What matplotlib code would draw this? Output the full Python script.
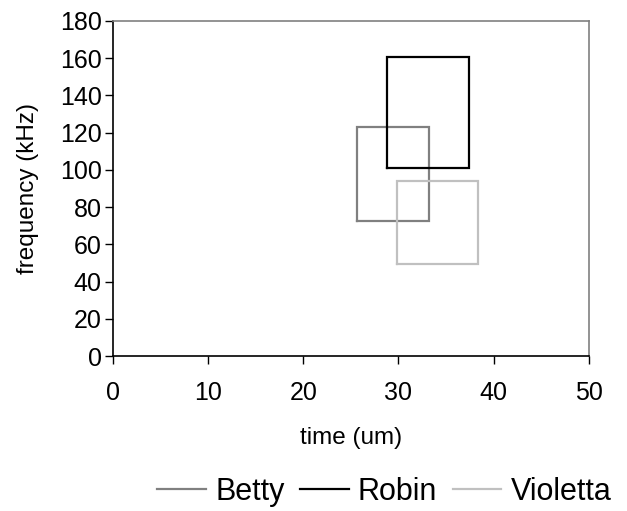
import matplotlib.pyplot as plt

plt.rcParams['font.family'] = ['Liberation Sans', 'DejaVu Sans']

# rectangles: x range (time) and y range (frequency)
names = ['Betty', 'Robin', 'Violetta']
colors = ['#808080', '#000000', '#c0c0c0']
x_start = [25.6, 28.8, 29.9]
x_end = [33.2, 37.4, 38.4]
y_low = [72.5, 100.8, 49.5]
y_high = [123.0, 160.7, 94.0]

fig = plt.figure(figsize=(6.27, 5.11), dpi=100)
ax = fig.add_axes([0.180, 0.303, 0.759, 0.656])

for i in range(len(names)):
    xs = [x_start[i], x_end[i], x_end[i], x_start[i], x_start[i]]
    ys = [y_low[i], y_low[i], y_high[i], y_high[i], y_low[i]]
    ax.plot(xs, ys, color=colors[i], linewidth=1.6, label=names[i],
            solid_joinstyle='miter')

ax.set_xlim(0, 50)
ax.set_ylim(0, 180)
ax.set_xticks(range(0, 51, 10))
ax.set_yticks(range(0, 181, 20))

ax.spines['left'].set_color('black')
ax.spines['bottom'].set_color('black')
ax.spines['top'].set_color('#808080')
ax.spines['right'].set_color('#808080')
for s in ax.spines.values():
    s.set_linewidth(1.2)

ax.tick_params(direction='out', length=6, width=1, labelsize=18)
ax.tick_params(axis='x', pad=12)
ax.tick_params(axis='y', pad=2)

ax.set_xlabel('time (um)', fontsize=17.5, labelpad=16)
ax.set_ylabel('frequency (kHz)', fontsize=17.5, labelpad=15)

fig.legend(loc='center', bbox_to_anchor=(0.613, 0.037), ncol=3, frameon=False,
           fontsize=22, handlelength=1.6, handletextpad=0.3, columnspacing=0.5,
           borderaxespad=0)

fig.savefig('out.png', dpi=100)
